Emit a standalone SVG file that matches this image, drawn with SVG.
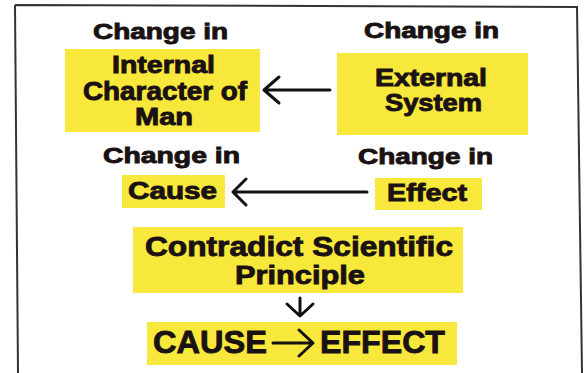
<svg xmlns="http://www.w3.org/2000/svg" width="586" height="373" viewBox="0 0 586 373">
<style>
.box{fill:#f9e83c}
.t{font-family:"Liberation Sans",Arial,sans-serif;font-weight:bold;fill:#1a1212;stroke:#1a1212;stroke-width:0.9;text-anchor:middle}
.arr{fill:none;stroke:#111;stroke-width:3;stroke-linecap:round;stroke-linejoin:round}
</style>
<rect width="586" height="373" fill="#fff"/>
<path d="M15,5 L577,7 L582,373 M18,373 L15,5" fill="none" stroke="#333" stroke-width="2"/>
<g id="label-top-left"><text class="t" x="160.5" y="39" font-size="22" textLength="135" lengthAdjust="spacingAndGlyphs">Change in</text></g>
<g id="node-internal">
<rect class="box" x="65" y="49" width="195" height="83"/>
<text class="t" x="163.5" y="73" font-size="24" textLength="103" lengthAdjust="spacingAndGlyphs">Internal</text>
<text class="t" x="165" y="100" font-size="25" textLength="164" lengthAdjust="spacingAndGlyphs">Character of</text>
<text class="t" x="164" y="125" font-size="24" textLength="58" lengthAdjust="spacingAndGlyphs">Man</text>
</g>
<g id="label-top-right"><text class="t" x="431.5" y="38" font-size="22" textLength="135" lengthAdjust="spacingAndGlyphs">Change in</text></g>
<g id="node-external">
<rect class="box" x="337" y="53" width="191" height="82"/>
<text class="t" x="431" y="86" font-size="23" textLength="112" lengthAdjust="spacingAndGlyphs">External</text>
<text class="t" x="433.5" y="111" font-size="23" textLength="97" lengthAdjust="spacingAndGlyphs">System</text>
</g>
<g id="label-mid-left"><text class="t" x="171.5" y="163" font-size="22" textLength="137" lengthAdjust="spacingAndGlyphs">Change in</text></g>
<g id="label-mid-right"><text class="t" x="425.5" y="164" font-size="22" textLength="135" lengthAdjust="spacingAndGlyphs">Change in</text></g>
<g id="node-cause">
<rect class="box" x="122" y="175" width="103" height="33"/>
<text class="t" x="172.5" y="199" font-size="24" textLength="89" lengthAdjust="spacingAndGlyphs">Cause</text>
</g>
<g id="node-effect">
<rect class="box" x="375" y="178" width="107" height="32"/>
<text class="t" x="427" y="201" font-size="24" textLength="80" lengthAdjust="spacingAndGlyphs">Effect</text>
</g>
<g id="node-contradict">
<rect class="box" x="133" y="227" width="330" height="66"/>
<text class="t" x="299" y="256" font-size="28" textLength="308" lengthAdjust="spacingAndGlyphs">Contradict Scientific</text>
<text class="t" x="300" y="284" font-size="26" textLength="130" lengthAdjust="spacingAndGlyphs">Principle</text>
</g>
<g id="node-cause-effect">
<rect class="box" x="147" y="322" width="310" height="43"/>
<text class="t" x="210" y="353" font-size="32" textLength="114" lengthAdjust="spacingAndGlyphs">CAUSE</text>
<text class="t" x="382.5" y="353" font-size="32" textLength="125" lengthAdjust="spacingAndGlyphs">EFFECT</text>
<path class="arr" d="M273,343 L311,343 M299,330 L313,343 L299,356" stroke-width="3.5"/>
</g>
<g id="connectors">
<path class="arr" d="M330,90 L265,90 M279,77 L264,90 L279,103"/>
<path class="arr" d="M367,192 L234,192 M246,179 L233,192 L246,205"/>
<path class="arr" d="M300,298 L300,315 M287,304 L300,316 L313,304"/>
</g>
</svg>
